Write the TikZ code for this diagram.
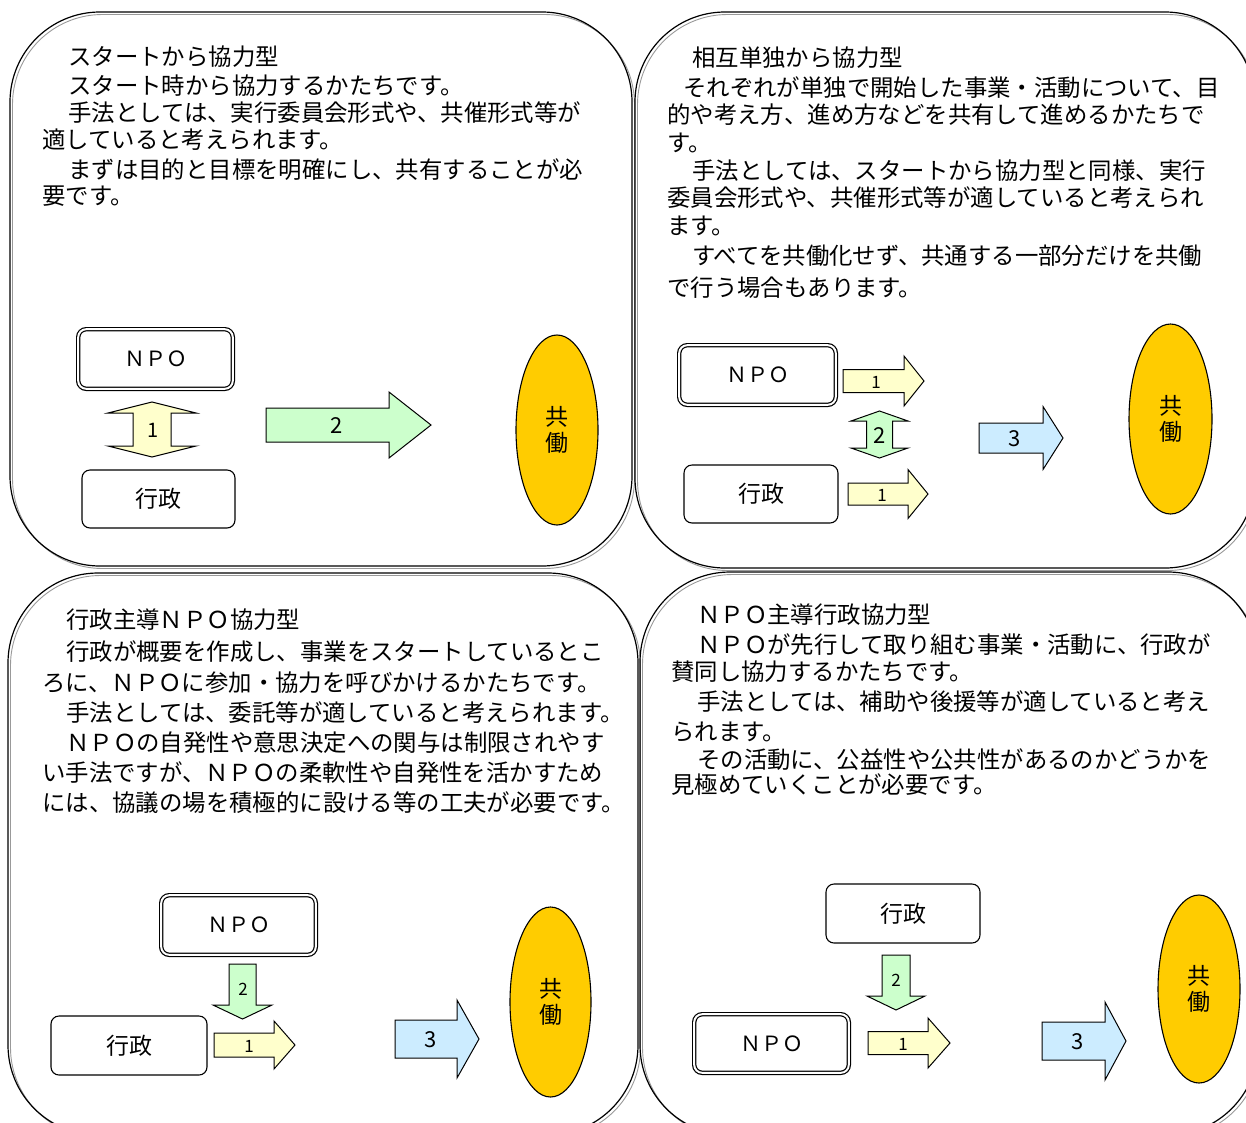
\documentclass[tikz,border=0pt]{standalone}
\usepackage{fontspec}
\setmainfont{Noto Sans CJK JP}
\usetikzlibrary{shapes.geometric}
\definecolor{kyoC}{HTML}{FFCC00}
\definecolor{yelC}{HTML}{FFFFCC}
\definecolor{grnC}{HTML}{CCFFCC}
\definecolor{bluC}{HTML}{CCECFF}
\tikzset{
 panel/.style={draw=black, line width=1.2pt, rounded corners=90pt},
 pshadow/.style={draw=black!40, line width=0.9pt, rounded corners=90pt},
 txt/.style={anchor=west, inner sep=0pt, font=\fontsize{23.4}{28}\selectfont},
 npobox/.style={draw=black, double=white, double distance=2pt, line width=1.2pt, rounded corners=8pt, inner sep=0pt, font=\fontsize{21}{24}\selectfont},
 gbox/.style={draw=black, line width=1.1pt, rounded corners=8pt, inner sep=0pt, font=\fontsize{23}{26}\selectfont},
 kyo/.style={ellipse, draw=black, line width=1.1pt, fill=kyoC, inner sep=0pt, align=center, font=\fontsize{23}{26}\selectfont},
 yarr/.style={draw=black, line width=1pt, fill=yelC},
 garr/.style={draw=black, line width=1pt, fill=grnC},
 barr/.style={draw=black, line width=1pt, fill=bluC},
 lblS/.style={inner sep=0pt, font=\fontsize{17}{20}\selectfont},
 lblM/.style={inner sep=0pt, font=\fontsize{20}{24}\selectfont},
 lblL/.style={inner sep=0pt, font=\fontsize{22}{26}\selectfont},
}
% right arrow: style, x-start, x-headbase, x-tip, y-centre, shaft half, head half
\newcommand\RArr[7]{\draw[#1] (#2,{#5-#6}) -- (#3,{#5-#6}) -- (#3,{#5-#7}) -- (#4,#5) -- (#3,{#5+#7}) -- (#3,{#5+#6}) -- (#2,{#5+#6}) -- cycle;}
% down arrow: style, x-centre, y-top, y-headbase, y-tip, shaft half, head half
\newcommand\DArr[7]{\draw[#1] ({#2-#6},#3) -- ({#2+#6},#3) -- ({#2+#6},#4) -- ({#2+#7},#4) -- (#2,#5) -- ({#2-#7},#4) -- ({#2-#6},#4) -- cycle;}
% vertical double arrow: style, x-centre, top tip, head base 1, head base 2, bottom tip, shaft half, head half
\newcommand\VDArr[8]{\draw[#1] (#2,#3) -- ({#2+#8},#4) -- ({#2+#7},#4) -- ({#2+#7},#5) -- ({#2+#8},#5) -- (#2,#6) -- ({#2-#8},#5) -- ({#2-#7},#5) -- ({#2-#7},#4) -- ({#2-#8},#4) -- cycle;}
\begin{document}
\begin{tikzpicture}[x=1pt,y=-1pt]
\useasboundingbox (0,0) rectangle (1246,1122);
\clip (0,0) rectangle (1246,1122);
% panels
\draw[pshadow] (12.5,14.5) rectangle (634.5,568.5);
\draw[pshadow] (637.5,14.5) rectangle (1257.5,570.5);
\draw[pshadow] (10.5,575.5) rectangle (640.5,1137.5);
\draw[pshadow] (642.5,574.5) rectangle (1260.5,1137.5);
\draw[panel] (10,12) rectangle (632,566);
\draw[panel] (635,12) rectangle (1255,568);
\draw[panel] (8,573) rectangle (638,1135);
\draw[panel] (640,572) rectangle (1258,1135);

% ---------- top-left text
\node[txt] (a1) at (68,57) {スタートから協力型};
\node[txt] (a2) at (68,86) {スタート時から協力するかたちです。};
\node[txt] (a3) at (68,113) {手法としては、実行委員会形式や、共催形式等が};
\node[txt] (a4) at (42,140) {適していると考えられます。};
\node[txt] (a5) at (68,170) {まずは目的と目標を明確にし、共有することが必};
\node[txt] (a6) at (42,196) {要です。};

% ---------- top-right text
\node[txt] (b1) at (692,58) {相互単独から協力型};
\node[txt] (b2) at (683,88) {それぞれが単独で開始した事業・活動について、目};
\node[txt] (b3) at (667,115) {的や考え方、進め方などを共有して進めるかたちで};
\node[txt] (b4) at (667,143) {す。};
\node[txt] (b5) at (692,171) {手法としては、スタートから協力型と同様、実行};
\node[txt] (b6) at (667,198) {委員会形式や、共催形式等が適していると考えられ};
\node[txt] (b7) at (667,226) {ます。};
\node[txt] (b8) at (692,256) {すべてを共働化せず、共通する一部分だけを共働};
\node[txt] (b9) at (667,288) {で行う場合もあります。};

% ---------- bottom-left text
\node[txt] (c1) at (66,620) {行政主導ＮＰＯ協力型};
\node[txt] (c2) at (66,652) {行政が概要を作成し、事業をスタートしているとこ};
\node[txt] (c3) at (42,683) {ろに、ＮＰＯに参加・協力を呼びかけるかたちです。};
\node[txt] (c4) at (66,713) {手法としては、委託等が適していると考えられます。};
\node[txt] (c5) at (66,743) {ＮＰＯの自発性や意思決定への関与は制限されやす};
\node[txt] (c6) at (42,773) {い手法ですが、ＮＰＯの柔軟性や自発性を活かすため};
\node[txt] (c7) at (42,803) {には、協議の場を積極的に設ける等の工夫が必要です。};

% ---------- bottom-right text
\node[txt] (d1) at (697,615) {ＮＰＯ主導行政協力型};
\node[txt] (d2) at (697,645) {ＮＰＯが先行して取り組む事業・活動に、行政が};
\node[txt] (d3) at (671,672) {賛同し協力するかたちです。};
\node[txt] (d4) at (697,702) {手法としては、補助や後援等が適していると考え};
\node[txt] (d5) at (671,732) {られます。};
\node[txt] (d6) at (697,760) {その活動に、公益性や公共性があるのかどうかを};
\node[txt] (d7) at (671,785) {見極めていくことが必要です。};

% ---------- top-left diagram
\node[npobox, minimum width=154.6pt, minimum height=59.6pt] (npoA) at (155.5,359) {ＮＰＯ};
\node[gbox, minimum width=153pt, minimum height=58pt] (gyoA) at (158.5,499) {行政};
\VDArr{yarr}{152}{402}{413}{446}{457}{19}{44}
\node[lblM] (lA1) at (153,430) {1};
\RArr{garr}{266}{389}{431}{425}{17}{33}
\node[lblL] (lA2) at (337,426) {2};
\node[kyo, minimum width=82pt, minimum height=190pt] (kyoA) at (557,430) {共\\働};

% ---------- top-right diagram
\node[npobox, minimum width=156.6pt, minimum height=59.6pt] (npoB) at (757.5,375) {ＮＰＯ};
\node[gbox, minimum width=154pt, minimum height=58pt] (gyoB) at (761,494) {行政};
\RArr{yarr}{843}{904}{924}{381}{11.5}{25}
\node[lblS] (lB1a) at (876,382) {1};
\RArr{yarr}{848}{908}{928}{494}{11}{24.5}
\node[lblS] (lB1b) at (882,495) {1};
\VDArr{garr}{879.5}{411}{421}{448}{458}{13}{28.5}
\node[lblL] (lB2) at (880,436) {2};
\RArr{barr}{979}{1043}{1063}{438}{15}{31.5}
\node[lblL] (lB3) at (1015,439) {3};
\node[kyo, minimum width=83pt, minimum height=190pt] (kyoB) at (1170.5,419) {共\\働};

% ---------- bottom-left diagram
\node[npobox, minimum width=154.6pt, minimum height=59.6pt] (npoC) at (238.5,925) {ＮＰＯ};
\node[gbox, minimum width=156pt, minimum height=59pt] (gyoC) at (129,1045.5) {行政};
\DArr{garr}{242.5}{964}{1005}{1019}{13.5}{29.5}
\node[lblS] (lC2) at (243,989) {2};
\RArr{yarr}{214}{274}{295}{1045}{12}{24}
\node[lblS] (lC1) at (249,1046) {1};
\RArr{barr}{395}{457}{479}{1039}{19}{39}
\node[lblL] (lC3) at (431,1040) {3};
\node[kyo, minimum width=81pt, minimum height=190pt] (kyoC) at (550.5,1002) {共\\働};

% ---------- bottom-right diagram
\node[gbox, minimum width=154pt, minimum height=59pt] (gyoD) at (903,913.5) {行政};
\DArr{garr}{896}{955}{996}{1010}{14}{29}
\node[lblS] (lD2) at (896,980) {2};
\node[npobox, minimum width=154.6pt, minimum height=58.6pt] (npoD) at (771.5,1043.5) {ＮＰＯ};
\RArr{yarr}{868}{928}{950}{1043}{11.5}{25}
\node[lblS] (lD1) at (903,1044) {1};
\RArr{barr}{1042}{1105}{1126}{1041}{19}{39}
\node[lblL] (lD3) at (1078,1042) {3};
\node[kyo, minimum width=82pt, minimum height=188pt] (kyoD) at (1199,989) {共\\働};
\end{tikzpicture}
\end{document}
